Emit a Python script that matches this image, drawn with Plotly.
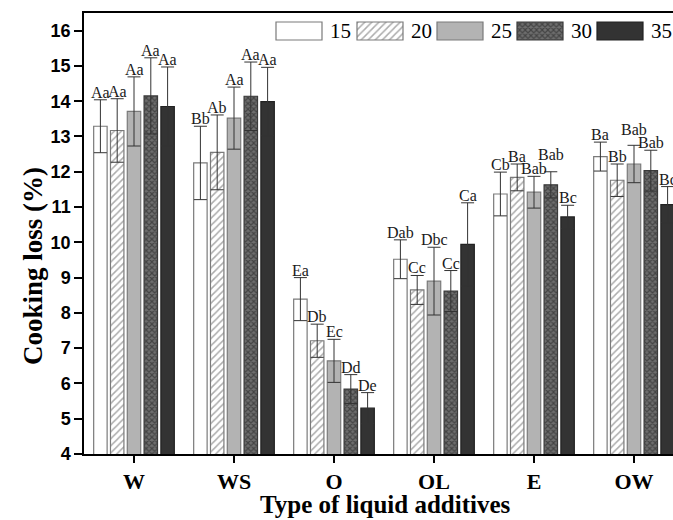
import plotly.graph_objects as go

# ---------------- data ----------------
categories = ["W", "WS", "O", "OL", "E", "OW"]
series_names = ["15", "20", "25", "30", "35"]

loss_15 = [13.29, 12.25, 8.39, 9.52, 11.37, 12.43]
loss_20 = [13.17, 12.55, 7.21, 8.65, 11.84, 11.76]
loss_25 = [13.71, 13.52, 6.64, 8.90, 11.42, 12.22]
loss_30 = [14.15, 14.14, 5.84, 8.62, 11.63, 12.03]
loss_35 = [13.85, 13.99, 5.30, 9.94, 10.72, 11.07]

err_15 = [0.75, 1.04, 0.61, 0.55, 0.62, 0.41]
err_20 = [0.90, 1.06, 0.47, 0.41, 0.38, 0.46]
err_25 = [0.98, 0.88, 0.61, 0.96, 0.45, 0.53]
err_30 = [1.08, 0.97, 0.41, 0.58, 0.37, 0.58]
err_35 = [1.12, 0.97, 0.44, 1.18, 0.33, 0.51]

lab_15 = ["Aa", "Bb", "Ea", "Dab", "Cb", "Ba"]
lab_20 = ["Aa", "Ab", "Db", "Cc", "Ba", "Bb"]
lab_25 = ["Aa", "Aa", "Ec", "Dbc", "Bab", "Bab"]
lab_30 = ["Aa", "Aa", "Dd", "Cc", "Bab", "Bab"]
lab_35 = ["Aa", "Aa", "De", "Ca", "Bc", "Bc"]

y_ticks = [4, 5, 6, 7, 8, 9, 10, 11, 12, 13, 14, 15, 16]

values = [loss_15, loss_20, loss_25, loss_30, loss_35]
errors = [err_15, err_20, err_25, err_30, err_35]
labels = [lab_15, lab_20, lab_25, lab_30, lab_35]

# ---------------- styles ----------------
styles = [
    dict(color="white", line="#7a7a7a", shape="", fg="#000", bg="white"),
    dict(color="white", line="#7a7a7a", shape="/", fg="#5a5a5a", bg="white"),
    dict(color="#b3b3b3", line="#7a7a7a", shape="", fg="#000", bg="#b3b3b3"),
    dict(color="#5a5a5a", line="#3a3a3a", shape="x", fg="#1a1a1a", bg="#6e6e6e"),
    dict(color="#333333", line="#222222", shape="", fg="#000", bg="#333333"),
]

# manual nudges (px) for crowded labels: (series index, category index) -> yshift
label_nudge = {(3, 4): 10, (2, 5): 8}

W, H = 673, 520
ML, MR, MT, MB = 84, 0, 13, 66
PW, PH = W - ML - MR, H - MT - MB
BARGAP = 0.16
SERIF = "Liberation Serif"


def px_to_paper(px, py):
    return (px - ML) / PW, (H - MB - py) / PH


def make_marker(st):
    marker = dict(color=st["color"], line=dict(color=st["line"], width=1.2))
    if st["shape"]:
        marker["pattern"] = dict(shape=st["shape"], fgcolor=st["fg"], bgcolor=st["bg"],
                                 size=5 if st["shape"] == "/" else 4,
                                 solidity=0.3 if st["shape"] == "/" else 0.5,
                                 fillmode="overlay")
    return marker


fig = go.Figure()

for i, name in enumerate(series_names):
    fig.add_trace(go.Bar(
        x=categories, y=values[i], name=name, marker=make_marker(styles[i]),
        showlegend=False,
        error_y=dict(type="data", array=errors[i], visible=True,
                     color="#333333", thickness=1, width=6.5),
    ))

# labels above error bars
slot = (1 - BARGAP) / len(series_names)
annotations = []
for i in range(len(series_names)):
    for j, c in enumerate(categories):
        annotations.append(dict(
            x=j + (i - 2) * slot, y=values[i][j] + errors[i][j], xref="x", yref="y",
            text=labels[i][j], showarrow=False, yanchor="bottom", xanchor="center",
            yshift=-3 + label_nudge.get((i, j), 0),
            font=dict(family=SERIF, size=16, color="#1a1a1a"),
        ))

# custom legend drawn with bars on an overlay pixel axis
leg_x0 = [276, 357, 437, 517, 597]
leg_w = 46
leg_y = 31
for i, name in enumerate(series_names):
    fig.add_trace(go.Bar(
        x=[leg_w], base=[leg_x0[i]], y=[leg_y], orientation="h", width=18,
        xaxis="x2", yaxis="y2", marker=make_marker(styles[i]), showlegend=False,
        offsetgroup="legend", hoverinfo="skip",
    ))
    annotations.append(dict(
        x=leg_x0[i] + leg_w + 6, y=leg_y, xref="x2", yref="y2", text=name,
        showarrow=False, xanchor="left", yanchor="middle",
        font=dict(family=SERIF, size=21, color="black"),
    ))

# axis titles (placed as in the reference)
yt_x, yt_y = px_to_paper(33, 266)
annotations.append(dict(
    x=yt_x, y=yt_y, xref="paper", yref="paper", text="<b>Cooking loss (%)</b>",
    textangle=-90, showarrow=False, xanchor="center", yanchor="middle",
    font=dict(family=SERIF, size=27, color="black"),
))
xt_x, xt_y = px_to_paper(385, 505)
annotations.append(dict(
    x=xt_x, y=xt_y, xref="paper", yref="paper", text="<b>Type of liquid additives</b>",
    showarrow=False, xanchor="center", yanchor="middle",
    font=dict(family=SERIF, size=25, color="black"),
))

fig.update_layout(
    width=W, height=H,
    margin=dict(l=ML, r=MR, t=MT, b=MB),
    paper_bgcolor="white", plot_bgcolor="white",
    barmode="group", bargap=BARGAP, bargroupgap=0.2,
    annotations=annotations,
    xaxis=dict(
        type="category", range=[-0.5, -0.5 + PW / 100.0],
        showline=True, linecolor="black", linewidth=1.5, mirror=True,
        ticks="outside", ticklen=7, tickwidth=1.5, tickcolor="black",
        showgrid=False, zeroline=False,
        tickfont=dict(family=SERIF, size=22, color="black", weight="bold"),
    ),
    yaxis=dict(
        range=[4, 16.5], tickvals=y_ticks,
        showline=True, linecolor="black", linewidth=1.5, mirror=False,
        ticks="outside", ticklen=8, tickwidth=1.5, tickcolor="black",
        showgrid=False, zeroline=False,
        tickfont=dict(family="Liberation Sans", size=18, color="black", weight="bold"),
    ),
    xaxis2=dict(overlaying="x", range=[ML, W - MR], visible=False, fixedrange=True),
    yaxis2=dict(overlaying="y", range=[MT + PH, MT], visible=False, fixedrange=True),
)

fig.write_html("out.html")
